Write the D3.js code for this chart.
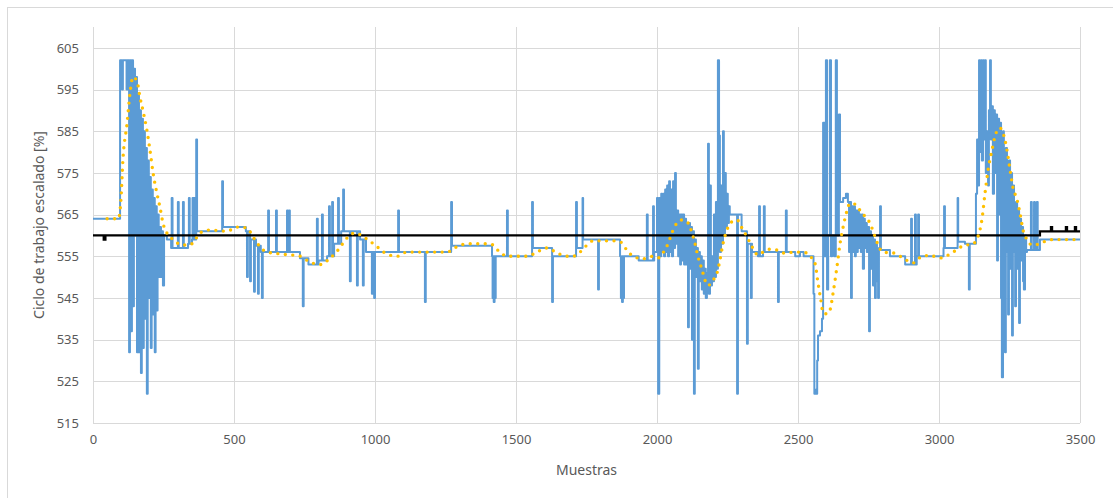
<!DOCTYPE html>
<html>
<head>
<meta charset="utf-8">
<script src="https://cdn.jsdelivr.net/npm/d3@7"></script>
<style>
  body { margin: 0; background: #fff; }
  svg { display: block; }
</style>
</head>
<body>
<svg></svg>
<script>
// axis ticks
const xTicks = [0, 500, 1000, 1500, 2000, 2500, 3000, 3500];
const yTicks = [515, 525, 535, 545, 555, 565, 575, 585, 595, 605];

// blue series: level changes (step after), dense bursts written out point by point
const blueLevels = [
  [0, 564], [96, 602],
  [128, 532], [131, 602], [135, 537], [138, 602], [142, 543], [145, 600], [149, 560], [152, 598],
  [156, 532], [159, 594], [163, 532], [166, 590], [170, 527], [173, 588], [177, 533], [180, 585],
  [184, 540], [187, 581], [191, 522], [194, 578], [198, 545], [201, 574], [205, 533], [208, 571],
  [212, 541], [215, 569], [219, 532], [222, 567], [226, 542], [229, 565], [233, 550], [237, 562],
  [241, 550], [244, 561], [248, 548], [252, 560], [262, 559], [277, 557], [337, 558], [351, 559],
  [369, 561], [461, 562], [542, 561], [560, 559], [578, 557.5], [595, 556],
  [734, 554.5], [764, 553], [800, 554], [830, 555], [855, 558], [880, 561], [947, 559], [968, 556],
  [1273, 557.5], [1415, 555], [1560, 557], [1631, 555], [1716, 557], [1738, 559], [1869, 555],
  [1935, 554], [1990, 556],
  [2000, 569], [2004, 522], [2008, 569], [2011, 555], [2015, 570], [2018, 556], [2022, 570], [2025, 555],
  [2029, 571], [2032, 556], [2036, 572], [2039, 555], [2043, 573], [2046, 556], [2050, 571], [2053, 555],
  [2057, 573], [2060, 557], [2064, 575], [2067, 558], [2071, 566], [2075, 555], [2078, 565], [2082, 553],
  [2085, 565], [2089, 554], [2092, 565], [2096, 553], [2099, 564], [2103, 553], [2106, 563], [2110, 538],
  [2113, 563], [2117, 552], [2120, 562], [2124, 535], [2127, 561], [2131, 522], [2134, 559], [2138, 550],
  [2141, 557], [2145, 528], [2148, 556], [2152, 549], [2155, 555], [2159, 547], [2162, 554], [2166, 546],
  [2170, 552], [2173, 545], [2177, 551], [2181, 582], [2184, 546], [2188, 572], [2191, 548], [2195, 555],
  [2198, 549], [2202, 565], [2205, 550], [2209, 568], [2212, 552], [2216, 602], [2220, 584], [2223, 556],
  [2227, 572], [2230, 558], [2234, 585], [2237, 560], [2241, 575], [2244, 562], [2248, 570], [2251, 563],
  [2255, 567], [2258, 565], [2300, 561], [2319, 558], [2337, 556], [2358, 555], [2376, 556],
  [2490, 555], [2507, 556], [2520, 555],
  [2555, 546], [2558, 522], [2561, 523], [2564, 522], [2568, 530], [2571, 536], [2578, 537], [2585, 540],
  [2589, 587], [2594, 555], [2599, 602], [2603, 547], [2607, 560], [2613, 602], [2617, 555], [2621, 560],
  [2628, 555], [2634, 602], [2638, 560], [2645, 589], [2649, 568], [2660, 569], [2670, 570], [2677, 568],
  [2681, 556], [2684, 568], [2688, 545], [2691, 567], [2695, 556], [2698, 567], [2702, 555], [2705, 566],
  [2709, 556], [2712, 566], [2716, 557], [2719, 565], [2723, 556], [2727, 565], [2730, 552], [2734, 564],
  [2737, 557], [2741, 563], [2744, 556], [2748, 562], [2752, 537], [2755, 561], [2759, 552], [2762, 560],
  [2766, 548], [2769, 559], [2773, 545], [2776, 558], [2780, 549], [2784, 545], [2787, 557],
  [2794, 556.5], [2826, 555], [2880, 553], [2921, 555], [3016, 557], [3068, 558.5], [3092, 558],
  [3128, 558], [3131, 570], [3135, 583], [3138, 572], [3142, 602], [3145, 580], [3149, 602], [3152, 578],
  [3156, 602], [3159, 583], [3163, 602], [3166, 575], [3170, 585], [3174, 572], [3177, 590], [3181, 602],
  [3184, 583], [3188, 591], [3191, 570], [3195, 590], [3198, 575], [3202, 589], [3206, 554], [3209, 588],
  [3213, 565], [3216, 587], [3220, 545], [3223, 526], [3227, 585], [3230, 560], [3234, 532], [3237, 581],
  [3241, 556], [3245, 541], [3248, 578], [3252, 552], [3255, 575], [3259, 536], [3262, 572], [3266, 556],
  [3270, 543], [3273, 568], [3277, 552], [3280, 566], [3284, 539], [3287, 564], [3291, 554], [3294, 562],
  [3298, 549], [3301, 547], [3305, 560], [3309, 556], [3312, 556.5], [3358, 559], [3500, 559]
];

// blue series: isolated one-sample spikes [x, value]
const blueSpikes = [
  [103, 595], [119, 595], [279, 569], [301, 568], [319, 568], [340, 569], [353, 569], [358, 569],
  [366, 583], [458, 573], [546, 550], [557, 549], [571, 546.5], [585, 546], [599, 545], [621, 566],
  [649, 566], [688, 566], [695, 566], [744, 543], [794, 564], [812, 565], [837, 567], [848, 568],
  [869, 569], [887, 571], [911, 549], [936, 548], [957, 548], [989, 546], [997, 545], [1082, 566],
  [1177, 544], [1270, 568], [1417, 545], [1421, 544], [1425, 545], [1468, 566], [1557, 568],
  [1628, 544], [1713, 568], [1736, 569], [1791, 547], [1872, 545], [1876, 544], [1880, 545],
  [1964, 565], [1986, 567], [2284, 522], [2319, 534], [2333, 545], [2362, 567], [2379, 567],
  [2429, 544], [2457, 566], [2791, 567], [2901, 564], [2915, 565], [2926, 565], [3018, 567],
  [3066, 569], [3106, 547], [3326, 568], [3337, 568], [3347, 568]
];

// yellow dotted series (smoothed)
const yellowPts = [
  [50, 564], [90, 564], [99, 568.5], [106, 578], [121, 587], [131, 594], [142, 598], [156, 597],
  [167, 593], [177, 590], [191, 585.3], [202, 580.5], [213, 575], [227, 570], [238, 566.6], [248, 563],
  [262, 560.6], [284, 559], [316, 557.7], [337, 557.7], [355, 558.2], [379, 560.6], [415, 561.3],
  [475, 561], [511, 562], [546, 561.8], [567, 559.7], [592, 557.3], [617, 556], [674, 555.5], [734, 555],
  [770, 553.6], [805, 553], [840, 554.5], [869, 556.5], [901, 559.4], [929, 560.6], [965, 559.4],
  [1000, 557.7], [1043, 555.5], [1078, 555], [1113, 556], [1255, 556], [1291, 557.3], [1326, 558],
  [1408, 558], [1443, 556], [1468, 555], [1539, 555], [1574, 556], [1610, 557], [1645, 555.8],
  [1681, 555], [1702, 555], [1727, 556], [1752, 557.7], [1773, 558.7], [1844, 558.7], [1869, 558.5],
  [1893, 556.5], [1915, 555], [1950, 554.4], [1986, 555], [2004, 554.6], [2021, 555.8], [2039, 558],
  [2053, 560.6], [2071, 563], [2089, 563.7], [2110, 563], [2124, 560.6], [2135, 558], [2145, 555],
  [2160, 551.7], [2170, 549.3], [2181, 548], [2199, 549.3], [2213, 551], [2223, 554], [2234, 558],
  [2248, 561.3], [2266, 563.3], [2284, 563.7], [2301, 561.8], [2319, 559.7], [2337, 557.3],
  [2358, 555.3], [2376, 556], [2401, 556.7], [2425, 556.5], [2447, 555.8], [2496, 556], [2532, 555.8],
  [2543, 555], [2560, 553.4], [2571, 548.6], [2581, 544.5], [2589, 541.4], [2603, 541.2], [2613, 542],
  [2624, 546], [2638, 552.4], [2649, 558], [2660, 562], [2674, 566], [2684, 567.7], [2702, 567.5],
  [2720, 566], [2738, 564.5], [2755, 563], [2773, 559.7], [2784, 557.7], [2801, 556], [2837, 555.8],
  [2872, 554.6], [2908, 553.4], [2940, 555], [2968, 555.2], [3004, 554.6], [3050, 556], [3085, 557.5],
  [3121, 558], [3138, 559.7], [3152, 563.7], [3163, 570], [3174, 575.7], [3188, 580.5], [3198, 583.6],
  [3216, 585.8], [3227, 584.6], [3241, 580.5], [3252, 575.7], [3262, 571.6], [3277, 568.5],
  [3287, 565.4], [3298, 561.3], [3312, 559], [3330, 557.7], [3347, 557.8], [3369, 558.4], [3404, 559],
  [3500, 559]
];

// black reference (step after)
const blackPts = [
  [0, 560], [38, 559], [44, 560], [3358, 561], [3397, 562], [3401, 561], [3450, 562], [3454, 561],
  [3482, 562], [3486, 561], [3500, 561]
];

const W = 1113, H = 498;
const margin = { top: 27, right: 33, bottom: 75, left: 93 };
const w = W - margin.left - margin.right;
const h = H - margin.top - margin.bottom;

const svg = d3.select("svg").attr("width", W).attr("height", H);

// chart frame
svg.append("rect")
  .attr("x", 7.5).attr("y", 7.5)
  .attr("width", 1110).attr("height", 500)
  .attr("fill", "#fff").attr("stroke", "#d9d9d9");

const chart = svg.append("g")
  .attr("transform", `translate(${margin.left},${margin.top})`);

const x = d3.scaleLinear().domain([0, 3500]).range([0, w]);
const y = d3.scaleLinear().domain([515, 610]).range([h, 0]);

// gridlines
chart.append("g")
  .selectAll("line")
  .data(yTicks)
  .join("line")
  .attr("x1", 0).attr("x2", w)
  .attr("y1", d => Math.round(y(d)) + 0.5).attr("y2", d => Math.round(y(d)) + 0.5)
  .attr("stroke", "#d9d9d9");
chart.append("g")
  .selectAll("line")
  .data(xTicks)
  .join("line")
  .attr("x1", d => Math.round(x(d)) + 0.5).attr("x2", d => Math.round(x(d)) + 0.5)
  .attr("y1", 0).attr("y2", h)
  .attr("stroke", "#d9d9d9");

// axes (labels only)
const yAxis = d3.axisLeft(y).tickValues(yTicks).tickSize(0).tickPadding(14);
const xAxis = d3.axisBottom(x).tickValues(xTicks).tickFormat(d3.format("d")).tickSize(0).tickPadding(12);
const yAxisGroup = chart.append("g").call(yAxis);
const xAxisGroup = chart.append("g").attr("transform", `translate(0,${h})`).call(xAxis);
[yAxisGroup, xAxisGroup].forEach(g => {
  g.select(".domain").remove();
  g.selectAll("text")
    .attr("fill", "#595959")
    .style("font-family", "'Noto Sans', 'Open Sans', sans-serif")
    .style("font-size", "13px");
});

// axis titles
svg.append("text")
  .attr("x", margin.left + w / 2)
  .attr("y", 475)
  .attr("text-anchor", "middle")
  .attr("fill", "#595959")
  .style("font-family", "'Noto Sans', 'Open Sans', sans-serif")
  .style("font-size", "14px")
  .text("Muestras");
svg.append("text")
  .attr("transform", `translate(44,${margin.top + h / 2}) rotate(-90)`)
  .attr("text-anchor", "middle")
  .attr("fill", "#595959")
  .style("font-family", "'Noto Sans', 'Open Sans', sans-serif")
  .style("font-size", "14px")
  .text("Ciclo de trabajo escalado [%]");

// build blue path from levels + spikes
function levelAt(v) {
  let out = blueLevels[0][1];
  for (const p of blueLevels) {
    if (p[0] <= v) out = p[1]; else break;
  }
  return out;
}
const bluePts = blueLevels.slice();
blueSpikes.forEach(([sx, sv]) => {
  bluePts.push([sx, sv]);
  bluePts.push([sx + 3, levelAt(sx + 3)]);
});
bluePts.sort((a, b) => a[0] - b[0]);

const stepLine = d3.line()
  .x(d => x(d[0]))
  .y(d => y(d[1]))
  .curve(d3.curveStepAfter);

chart.append("path")
  .datum(bluePts)
  .attr("fill", "none")
  .attr("stroke", "#5b9bd5")
  .attr("stroke-width", 2)
  .attr("stroke-linejoin", "round")
  .attr("d", stepLine);

chart.append("path")
  .datum(blackPts)
  .attr("fill", "none")
  .attr("stroke", "#000")
  .attr("stroke-width", 2.25)
  .attr("d", stepLine);

const smoothLine = d3.line()
  .x(d => x(d[0]))
  .y(d => y(d[1]))
  .curve(d3.curveMonotoneX);

chart.append("path")
  .datum(yellowPts)
  .attr("fill", "none")
  .attr("stroke", "#ffc000")
  .attr("stroke-width", 3.4)
  .attr("stroke-linecap", "round")
  .attr("stroke-dasharray", "0,7.5")
  .attr("d", smoothLine);
</script>
</body>
</html>
